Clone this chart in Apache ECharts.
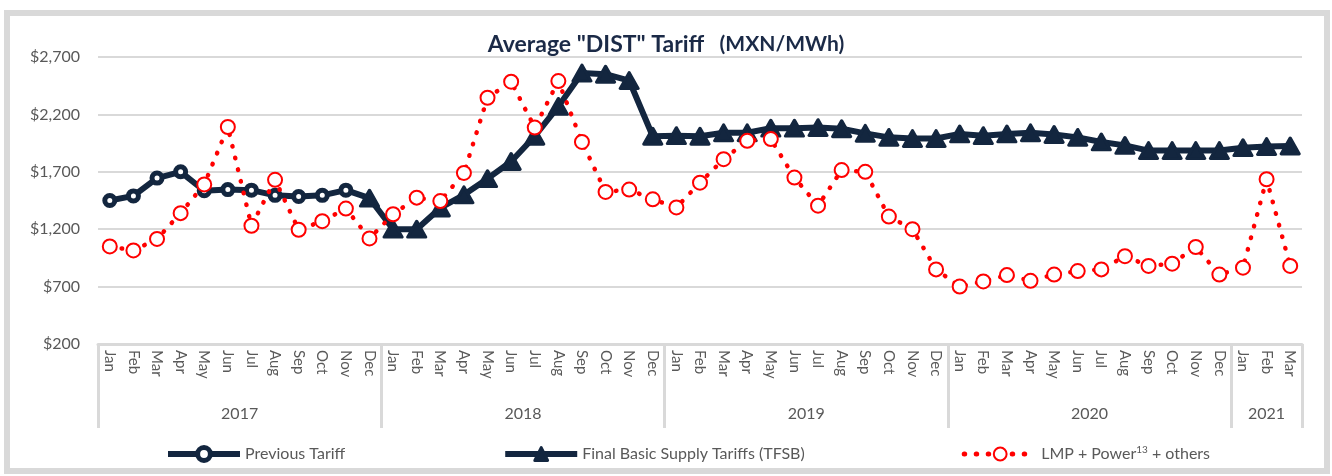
<!DOCTYPE html>
<html><head><meta charset="utf-8">
<script src="https://cdn.jsdelivr.net/npm/echarts@6/dist/echarts.min.js"></script>
<style>
html,body{margin:0;padding:0;background:#fff;}
#frame{position:absolute;left:4px;top:10px;width:1314px;height:452px;border:6px solid #d9d9d9;}
#chart{position:absolute;left:0;top:0;width:1332px;height:476px;}
</style></head><body>
<div id="frame"></div><div id="chart"></div>
<script>
const monthNames = ['Jan','Feb','Mar','Apr','May','Jun','Jul','Aug','Sep','Oct','Nov','Dec'];
const years = ['2017','2018','2019','2020','2021'];
const monthsPerYear = [12,12,12,12,3];
const yTicks = {min: 200, max: 2700, interval: 500};

const previousTariff = [1450,1490,1645,1700,1535,1545,1540,1495,1485,1495,1540,1470];
const tfsb = [null,null,null,null,null,null,null,null,null,null,null,1470,
  1200,1200,1385,1500,1640,1790,2010,2270,2560,2550,2495,2010,
  2015,2010,2040,2040,2080,2080,2085,2075,2035,2000,1990,1990,
  2030,2015,2030,2040,2025,2000,1960,1930,1885,1885,1885,1885,
  1910,1920,1925];
const lmp = [1050,1015,1115,1340,1590,2090,1230,1630,1195,1270,1380,1120,
  1330,1475,1445,1690,2345,2485,2085,2490,1960,1525,1545,1460,
  1390,1605,1810,1970,1985,1650,1405,1715,1700,1310,1200,850,
  700,745,800,750,805,835,850,965,880,900,1045,805,
  865,1635,880];

const seriesNames = ['Previous Tariff','Final Basic Supply Tariffs (TFSB)','LMP + Power13 + others'];

const categories = [];
years.forEach((y, i) => { for (let m = 0; m < monthsPerYear[i]; m++) categories.push(monthNames[m]); });
const yearStarts = [];
let acc = 0;
monthsPerYear.forEach(n => { yearStarts.push(acc); acc += n; });
const yearSlots = new Array(categories.length * 2 + 1).fill('');
years.forEach((y, i) => { yearSlots[yearStarts[i] * 2 + monthsPerYear[i]] = y; });

const navy = '#13263f';
const red = '#ff0000';
const grey = '#595959';
const font = 'Lato';

const prevData = previousTariff.map((v, i) => i === previousTariff.length - 1 ? {value: v, symbol: 'none'} : v);

const chart = echarts.init(document.getElementById('chart'), null, {renderer: 'canvas'});
chart.setOption({
  animation: false,
  backgroundColor: 'transparent',
  title: {
    text: '{b|Average "DIST" Tariff}{n|   (MXN/MWh)}',
    left: 'center', top: 28,
    textStyle: {
      rich: {
        b: {fontFamily: font, fontSize: 23, fontWeight: 'bold', color: '#1b2a47'},
        n: {fontFamily: font, fontSize: 21, color: '#1b2a47'}
      }
    }
  },
  grid: {left: 98, right: 30, top: 57, bottom: 132, containLabel: false},
  legend: {
    left: 160, top: 440,
    itemGap: 157, itemWidth: 72, itemHeight: 16,
    textStyle: {fontFamily: font, fontSize: 16, color: grey,
      rich: {sup: {fontFamily: font, fontSize: 10, color: grey, padding: [0, 0, 8, 0]}}},
    formatter: name => name === seriesNames[2] ? 'LMP + Power{sup|13} + others' : name,
    data: [
      {name: seriesNames[0], itemStyle: {borderWidth: 5}, lineStyle: {width: 6}},
      {name: seriesNames[1], itemStyle: {borderWidth: 3}, lineStyle: {width: 6}},
      {name: seriesNames[2], itemStyle: {borderWidth: 2}, lineStyle: {width: 5}}
    ]
  },
  xAxis: [{
    type: 'category', data: categories, boundaryGap: true,
    axisLine: {show: true, lineStyle: {color: '#d9d9d9', width: 3}},
    axisTick: {show: true, length: 84, lineStyle: {color: '#d9d9d9', width: 3},
      interval: (idx) => yearStarts.indexOf(idx) >= 0},
    axisLabel: {interval: 0, rotate: -90, margin: 6, fontFamily: font, fontSize: 15, color: grey}
  }, {
    type: 'category', data: yearSlots, boundaryGap: false, position: 'bottom',
    axisLine: {show: false}, axisTick: {show: false}, splitLine: {show: false},
    axisLabel: {interval: 0, margin: 62, fontFamily: font, fontSize: 16, color: grey}
  }],
  yAxis: {
    type: 'value', min: yTicks.min, max: yTicks.max, interval: yTicks.interval,
    axisLine: {show: false}, axisTick: {show: false},
    splitLine: {lineStyle: {color: '#d9d9d9', width: 2}},
    axisLabel: {margin: 18, fontFamily: font, fontSize: 16, color: grey,
      formatter: v => '$' + String(v).replace(/\B(?=(\d{3})+(?!\d))/g, ',')}
  },
  series: [{
    name: seriesNames[0], type: 'line', data: prevData,
    symbol: 'circle', symbolSize: 10,
    lineStyle: {color: navy, width: 6},
    itemStyle: {color: '#ffffff', borderColor: navy, borderWidth: 5},
    z: 2
  }, {
    name: seriesNames[1], type: 'line', data: tfsb,
    symbol: 'triangle', symbolSize: [18, 16],
    lineStyle: {color: navy, width: 6},
    itemStyle: {color: navy, borderColor: navy, borderWidth: 3, borderJoin: 'round'},
    z: 3
  }, {
    name: seriesNames[2], type: 'line', data: lmp,
    symbol: 'circle', symbolSize: 14,
    lineStyle: {color: red, width: 4.5, type: [0.5, 11.5], cap: 'round'},
    itemStyle: {color: '#ffffff', borderColor: red, borderWidth: 2},
    z: 4
  }]
});
</script>
</body></html>
